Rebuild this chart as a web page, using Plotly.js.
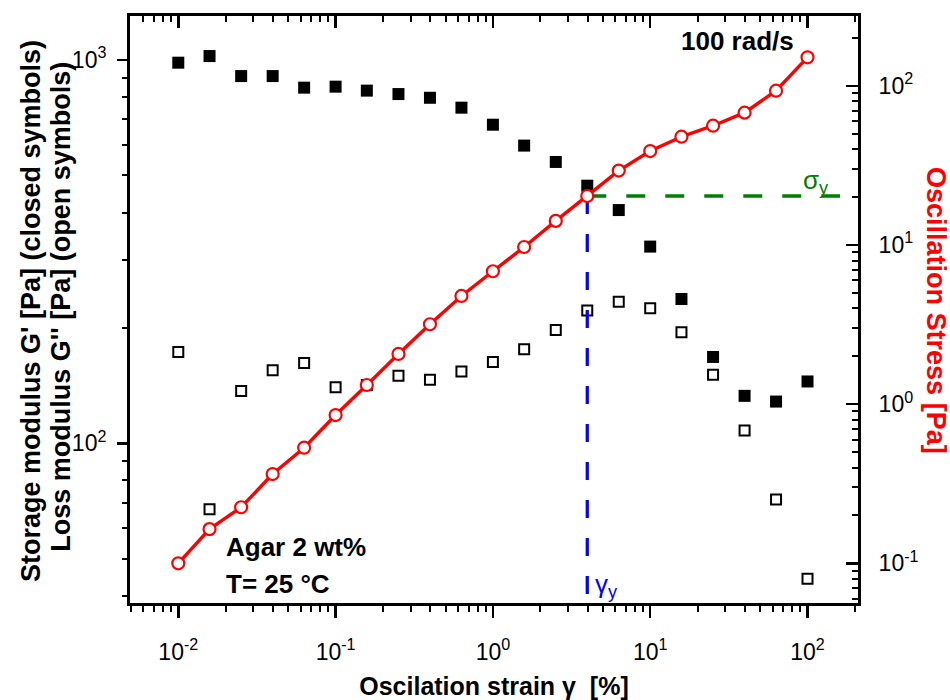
<!DOCTYPE html>
<html>
<head>
<meta charset="utf-8">
<script src="https://cdn.plot.ly/plotly-3.0.1.min.js"></script>
<style>html,body{margin:0;padding:0;background:#fff;}#chart{width:950px;height:700px;}</style>
</head>
<body>
<div id="chart"></div>
<script>
// ---- data ----
const strain = [0.01, 0.0158, 0.0251, 0.0398, 0.0631, 0.1, 0.158, 0.251, 0.398, 0.631,
                1, 1.58, 2.51, 3.98, 6.31, 10, 15.8, 25.1, 39.8, 63.1, 100];
const storageModulus = [984, 1024, 908, 908, 847, 852, 832, 815, 797, 751,
                        678, 598, 542, 470, 406, 326, 238, 168, 133, 128.5, 145];
const lossModulus = [173, 67.3, 137, 155, 162, 140, 142, 150, 146.5, 154,
                     163, 176, 197.5, 222, 234, 225, 195, 151, 108, 71.4, 44.3];
const stress = [0.1, 0.164, 0.225, 0.364, 0.533, 0.855, 1.32, 2.07, 3.18, 4.79,
                6.85, 9.73, 14.2, 20.35, 29.4, 39.0, 48.0, 56.3, 68.0, 93.4, 151.5];
const gammaY = 3.98;      // yield strain [%]
const sigmaY = 20.35;     // yield stress [Pa]
const sigmaLineEnd = 161; // strain where the sigma_y guide ends

const xTickVals = [0.01, 0.1, 1, 10, 100];
const xTickText = ['10<sup>-2</sup>', '10<sup>-1</sup>', '10<sup>0</sup>', '10<sup>1</sup>', '10<sup>2</sup>'];
const yTickVals = [100, 1000];
const yTickText = ['10<sup>2</sup>', '10<sup>3</sup>'];
const y2TickVals = [0.1, 1, 10, 100];
const y2TickText = ['10<sup>-1</sup>', '10<sup>0</sup>', '10<sup>1</sup>', '10<sup>2</sup>'];

// ---- axis ranges (log10) ----
const xRange = [-2.307, 2.321];
const yRange = [1.5834, 3.1148];
const y2Range = [-1.2495, 2.44];

function minorVals(lo, hi) {
  const out = [];
  for (let e = Math.floor(lo) - 1; e <= Math.ceil(hi); e++) {
    for (let m = 2; m <= 9; m++) out.push(m * Math.pow(10, e));
  }
  return out;
}

const FONT = 'Liberation Sans, Arial, Helvetica, sans-serif';

const traces = [
  { x: strain, y: storageModulus, type: 'scatter', mode: 'markers', name: "G'",
    marker: { symbol: 'square', size: 12, color: '#000', line: { width: 0 } },
    xaxis: 'x', yaxis: 'y', hoverinfo: 'x+y' },
  { x: strain, y: lossModulus, type: 'scatter', mode: 'markers', name: "G''",
    marker: { symbol: 'square-open', size: 10, color: '#000', line: { width: 2, color: '#000' } },
    xaxis: 'x', yaxis: 'y', hoverinfo: 'x+y' },
  { x: [], y: [], type: 'scatter', mode: 'markers', xaxis: 'x2', yaxis: 'y',
    showlegend: false, hoverinfo: 'skip' },
  { x: [gammaY, sigmaLineEnd], y: [sigmaY, sigmaY], type: 'scatter', mode: 'lines',
    line: { color: '#008000', width: 3.5, dash: '19px,20px' }, xaxis: 'x', yaxis: 'y2',
    hoverinfo: 'skip' },
  { x: [gammaY, gammaY], y: [sigmaY, Math.pow(10, y2Range[0])], type: 'scatter', mode: 'lines',
    line: { color: '#0000ff', width: 3.2, dash: '18px,20px' }, xaxis: 'x', yaxis: 'y2',
    hoverinfo: 'skip' },
  { x: strain, y: stress, type: 'scatter', mode: 'lines+markers', name: 'Stress',
    line: { color: '#ff0000', width: 3.4 },
    marker: { symbol: 'circle', size: 12, color: '#ffffff', line: { width: 2.2, color: '#ff0000' } },
    xaxis: 'x', yaxis: 'y2', hoverinfo: 'x+y' }
];

const axisCommon = {
  type: 'log', showgrid: false, zeroline: false, showline: true,
  linecolor: '#000', linewidth: 3, tickcolor: '#000', tickwidth: 2.5,
  tickfont: { family: FONT, size: 23, color: '#000' }
};

const layout = {
  width: 950, height: 700,
  margin: { l: 130, r: 92, t: 16, b: 97 },
  paper_bgcolor: '#fff', plot_bgcolor: '#fff',
  showlegend: false,
  font: { family: FONT, color: '#000', size: 16 },
  xaxis: Object.assign({}, axisCommon, {
    range: xRange, tickmode: 'array', tickvals: xTickVals, ticktext: xTickText,
    ticks: 'outside', ticklen: 12, ticklabelstandoff: 14,
    minor: { tickmode: 'array', tickvals: minorVals(-3, 3), ticks: 'outside', ticklen: 6, tickwidth: 2, tickcolor: '#000' },
    title: { text: '<b>Oscilation strain γ\u00A0 [%]</b>', font: { family: FONT, size: 25, color: '#000' }, standoff: 16 }
  }),
  xaxis2: Object.assign({}, axisCommon, {
    range: xRange, overlaying: 'x', side: 'top', anchor: 'y',
    tickmode: 'array', tickvals: xTickVals, ticks: 'inside', ticklen: 12, showticklabels: false,
    minor: { tickmode: 'array', tickvals: minorVals(-3, 3), ticks: 'inside', ticklen: 6, tickwidth: 2, tickcolor: '#000' }
  }),
  yaxis: Object.assign({}, axisCommon, {
    range: yRange, tickmode: 'array', tickvals: yTickVals, ticktext: yTickText,
    ticks: 'outside', ticklen: 10, ticklabelstandoff: 6,
    minor: { tickmode: 'array', tickvals: minorVals(1, 4), ticks: 'outside', ticklen: 5, tickwidth: 2, tickcolor: '#000' }
  }),
  yaxis2: Object.assign({}, axisCommon, {
    range: y2Range, overlaying: 'y', side: 'right', anchor: 'x',
    tickmode: 'array', tickvals: y2TickVals, ticktext: y2TickText,
    ticks: 'inside', ticklen: 12, ticklabelstandoff: 13,
    minor: { tickmode: 'array', tickvals: minorVals(-2, 3), ticks: 'inside', ticklen: 6, tickwidth: 2, tickcolor: '#000' }
  }),
  annotations: [
    { xref: 'paper', yref: 'paper', x: -0.137, y: 0.498, textangle: -90, showarrow: false,
      xanchor: 'center', yanchor: 'middle',
      text: "<b>Storage modulus G' [Pa] (closed symbols)</b>", font: { family: FONT, size: 27, color: '#000' } },
    { xref: 'paper', yref: 'paper', x: -0.096, y: 0.505, textangle: -90, showarrow: false,
      xanchor: 'center', yanchor: 'middle',
      text: "<b>Loss modulus G'' [Pa] (open symbols)</b>", font: { family: FONT, size: 27, color: '#000' } },
    { xref: 'paper', yref: 'paper', x: 1.108, y: 0.498, textangle: 90, showarrow: false,
      xanchor: 'center', yanchor: 'middle',
      text: '<b>Oscillation Stress [Pa]</b>', font: { family: FONT, size: 27, color: '#ff0000' } },
    { xref: 'paper', yref: 'paper', x: 0.834, y: 0.9576, showarrow: false,
      xanchor: 'center', yanchor: 'middle',
      text: '<b>100 rad/s</b>', font: { family: FONT, size: 26, color: '#000' } },
    { xref: 'paper', yref: 'paper', x: 0.1288, y: 0.0949, showarrow: false,
      xanchor: 'left', yanchor: 'middle',
      text: '<b>Agar 2 wt%</b>', font: { family: FONT, size: 26, color: '#000' } },
    { xref: 'paper', yref: 'paper', x: 0.1288, y: 0.0322, showarrow: false,
      xanchor: 'left', yanchor: 'middle',
      text: '<b>T= 25 °C</b>', font: { family: FONT, size: 26, color: '#000' } },
    { xref: 'paper', yref: 'paper', x: 0.922, y: 0.7186, showarrow: false,
      xanchor: 'left', yanchor: 'middle',
      text: 'σ<sub>y</sub>', font: { family: FONT, size: 26, color: '#008000' } },
    { xref: 'paper', yref: 'paper', x: 0.636, y: 0.0305, showarrow: false,
      xanchor: 'left', yanchor: 'middle',
      text: 'γ<sub>y</sub>', font: { family: FONT, size: 26, color: '#0000ff' } }
  ]
};

Plotly.newPlot('chart', traces, layout, { staticPlot: true, displayModeBar: false });
</script>
</body>
</html>
